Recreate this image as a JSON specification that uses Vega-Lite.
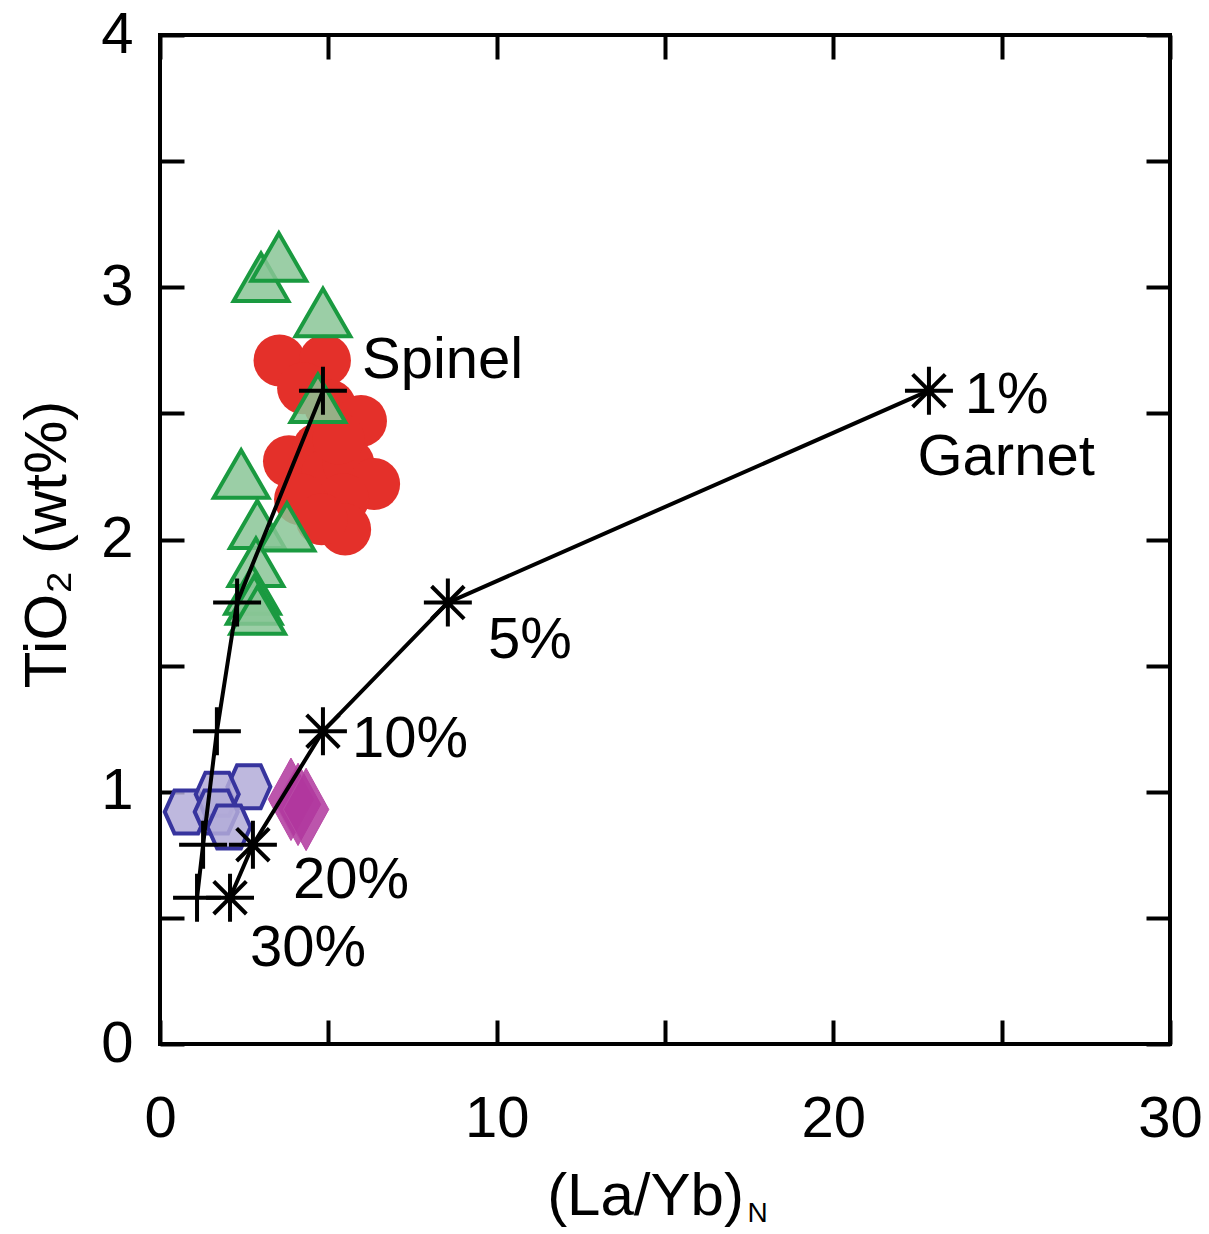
{
  "$schema": "https://vega.github.io/schema/vega-lite/v6.json",
  "width": 1010,
  "height": 1009,
  "autosize": {"type": "none"},
  "padding": {"left": 160, "top": 35, "right": 39, "bottom": 190},
  "background": "white",
  "config": {
    "view": {"stroke": "black", "strokeWidth": 4},
    "font": "Liberation Sans",
    "axis": {"domain": false, "grid": false, "tickColor": "black", "tickWidth": 4, "labelColor": "black", "labelFont": "Liberation Sans", "labelFontSize": 58, "titleFont": "Liberation Sans", "titleFontSize": 60, "titleFontWeight": "normal", "titleColor": "black"}
  },
  "datasets": {
    "circles": [
      {"x": 3.55, "y": 2.71}, {"x": 4.9, "y": 2.71}, {"x": 4.25, "y": 2.6}, {"x": 5.05, "y": 2.53},
      {"x": 5.97, "y": 2.47}, {"x": 3.83, "y": 2.31}, {"x": 4.7, "y": 2.36}, {"x": 4.96, "y": 2.26},
      {"x": 5.6, "y": 2.3}, {"x": 6.36, "y": 2.22}, {"x": 5.44, "y": 2.16}, {"x": 4.16, "y": 2.16},
      {"x": 5.5, "y": 2.04}, {"x": 4.8, "y": 2.08}, {"x": 5.3, "y": 2.4}
    ],
    "triangles": [
      {"x": 3.0, "y": 3.04}, {"x": 3.53, "y": 3.12}, {"x": 4.84, "y": 2.9}, {"x": 4.69, "y": 2.56},
      {"x": 2.41, "y": 2.26}, {"x": 2.89, "y": 2.06}, {"x": 3.77, "y": 2.05}, {"x": 2.85, "y": 1.91},
      {"x": 2.75, "y": 1.8}, {"x": 2.8, "y": 1.76}, {"x": 2.9, "y": 1.72}
    ],
    "hexagons": [
      {"x": 0.78, "y": 0.92}, {"x": 2.64, "y": 1.02}, {"x": 1.7, "y": 0.99}, {"x": 1.67, "y": 0.92}, {"x": 2.05, "y": 0.86}
    ],
    "diamonds": [
      {"x": 3.89, "y": 0.97}, {"x": 4.1, "y": 0.95}, {"x": 4.34, "y": 0.93}
    ],
    "spinel": [
      {"x": 4.84, "y": 2.59}, {"x": 2.29, "y": 1.75}, {"x": 1.69, "y": 1.24}, {"x": 1.28, "y": 0.79}, {"x": 1.1, "y": 0.58}
    ],
    "garnet": [
      {"x": 22.84, "y": 2.59}, {"x": 8.55, "y": 1.75}, {"x": 4.84, "y": 1.24}, {"x": 2.76, "y": 0.79}, {"x": 2.08, "y": 0.58}
    ],
    "labels": [
      {"x": 6.0, "y": 2.64, "text": "Spinel"},
      {"x": 23.9, "y": 2.5, "text": "1%"},
      {"x": 22.5, "y": 2.255, "text": "Garnet"},
      {"x": 9.74, "y": 1.53, "text": "5%"},
      {"x": 5.7, "y": 1.137, "text": "10%"},
      {"x": 3.95, "y": 0.579, "text": "20%"},
      {"x": 2.67, "y": 0.309, "text": "30%"}
    ],
    "subscript": [
      {"x": 17.75, "y": -0.705, "text": "N"}
    ]
  },
  "resolve": {"axis": {"x": "independent", "y": "independent"}},
  "layer": [
    {
      "data": {"name": "circles"},
      "mark": {"type": "circle", "size": 2700, "color": "#e4302a", "opacity": 1},
      "encoding": {
        "x": {"field": "x", "type": "quantitative", "scale": {"domain": [0, 30], "nice": false, "zero": false}, "axis": null},
        "y": {"field": "y", "type": "quantitative", "scale": {"domain": [0, 4], "nice": false, "zero": false}, "axis": null}
      }
    },
    {
      "data": {"name": "triangles"},
      "mark": {"type": "point", "shape": "triangle-up", "size": 3000, "filled": true, "fill": "#8ac597", "fillOpacity": 0.85, "stroke": "#1a9a40", "strokeWidth": 4, "strokeOpacity": 1},
      "encoding": {
        "x": {"field": "x", "type": "quantitative", "scale": {"domain": [0, 30], "nice": false, "zero": false}, "axis": null},
        "y": {"field": "y", "type": "quantitative", "scale": {"domain": [0, 4], "nice": false, "zero": false}, "axis": null}
      }
    },
    {
      "data": {"name": "hexagons"},
      "mark": {"type": "point", "shape": "M-1,0L-0.55,-1L0.55,-1L1,0L0.55,1L-0.55,1Z", "size": 1850, "filled": true, "fill": "#b3acd8", "fillOpacity": 0.85, "stroke": "#37349e", "strokeWidth": 4, "strokeOpacity": 1},
      "encoding": {
        "x": {"field": "x", "type": "quantitative", "scale": {"domain": [0, 30], "nice": false, "zero": false}, "axis": null},
        "y": {"field": "y", "type": "quantitative", "scale": {"domain": [0, 4], "nice": false, "zero": false}, "axis": null}
      }
    },
    {
      "data": {"name": "diamonds"},
      "mark": {"type": "point", "shape": "M0,-1L0.55,0L0,1L-0.55,0Z", "size": 6800, "filled": true, "fill": "#b0379e", "fillOpacity": 0.85, "stroke": "#b84aa6", "strokeWidth": 1},
      "encoding": {
        "x": {"field": "x", "type": "quantitative", "scale": {"domain": [0, 30], "nice": false, "zero": false}, "axis": null},
        "y": {"field": "y", "type": "quantitative", "scale": {"domain": [0, 4], "nice": false, "zero": false}, "axis": null}
      }
    },
    {
      "data": {"name": "spinel"},
      "mark": {"type": "line", "color": "black", "strokeWidth": 4},
      "encoding": {
        "x": {"field": "x", "type": "quantitative", "scale": {"domain": [0, 30], "nice": false, "zero": false},
          "axis": {"orient": "bottom", "values": [0, 5, 10, 15, 20, 25, 30], "labelExpr": "datum.value % 10 == 0 ? format(datum.value, 'd') : ''", "tickSize": -24, "labelPadding": 70, "labelBaseline": "top", "title": "(La/Yb)", "titleX": 485, "titleY": 170, "titleBaseline": "alphabetic", "titleAlign": "center", "labelFlush": false}},
        "y": {"field": "y", "type": "quantitative", "scale": {"domain": [0, 4], "nice": false, "zero": false},
          "axis": {"orient": "left", "values": [0, 0.5, 1, 1.5, 2, 2.5, 3, 3.5, 4], "labelExpr": "datum.value % 1 == 0 ? format(datum.value, 'd') : ''", "tickSize": -24, "labelPadding": 51, "title": "TiO₂ (wt%)", "titleX": -95, "titleY": 509, "titleAngle": -90, "titleBaseline": "alphabetic", "titleAlign": "center", "labelFlush": false}}
      }
    },
    {
      "data": {"name": "garnet"},
      "mark": {"type": "line", "color": "black", "strokeWidth": 4},
      "encoding": {
        "x": {"field": "x", "type": "quantitative", "scale": {"domain": [0, 30], "nice": false, "zero": false},
          "axis": {"orient": "top", "values": [0, 5, 10, 15, 20, 25, 30], "labels": false, "tickSize": -24, "title": null}},
        "y": {"field": "y", "type": "quantitative", "scale": {"domain": [0, 4], "nice": false, "zero": false},
          "axis": {"orient": "right", "values": [0, 0.5, 1, 1.5, 2, 2.5, 3, 3.5, 4], "labels": false, "tickSize": -24, "title": null}}
      }
    },
    {
      "data": {"name": "spinel"},
      "mark": {"type": "point", "shape": "M-1,0L1,0M0,-1L0,1", "size": 2300, "filled": false, "stroke": "black", "strokeWidth": 4, "opacity": 1},
      "encoding": {
        "x": {"field": "x", "type": "quantitative", "scale": {"domain": [0, 30], "nice": false, "zero": false}, "axis": null},
        "y": {"field": "y", "type": "quantitative", "scale": {"domain": [0, 4], "nice": false, "zero": false}, "axis": null}
      }
    },
    {
      "data": {"name": "garnet"},
      "mark": {"type": "point", "shape": "M-1,0L1,0M0,-1L0,1M-0.68,-0.68L0.68,0.68M-0.68,0.68L0.68,-0.68", "size": 2300, "filled": false, "stroke": "black", "strokeWidth": 4, "opacity": 1},
      "encoding": {
        "x": {"field": "x", "type": "quantitative", "scale": {"domain": [0, 30], "nice": false, "zero": false}, "axis": null},
        "y": {"field": "y", "type": "quantitative", "scale": {"domain": [0, 4], "nice": false, "zero": false}, "axis": null}
      }
    },
    {
      "data": {"name": "labels"},
      "mark": {"type": "text", "align": "left", "baseline": "alphabetic", "fontSize": 58, "font": "Liberation Sans", "color": "black"},
      "encoding": {
        "x": {"field": "x", "type": "quantitative", "scale": {"domain": [0, 30], "nice": false, "zero": false}, "axis": null},
        "y": {"field": "y", "type": "quantitative", "scale": {"domain": [0, 4], "nice": false, "zero": false}, "axis": null},
        "text": {"field": "text"}
      }
    },
    {
      "data": {"name": "subscript"},
      "mark": {"type": "text", "align": "center", "baseline": "alphabetic", "fontSize": 28, "font": "Liberation Sans", "color": "black"},
      "encoding": {
        "x": {"field": "x", "type": "quantitative", "scale": {"domain": [0, 30], "nice": false, "zero": false}, "axis": null},
        "y": {"field": "y", "type": "quantitative", "scale": {"domain": [0, 4], "nice": false, "zero": false}, "axis": null},
        "text": {"field": "text"}
      }
    }
  ]
}
